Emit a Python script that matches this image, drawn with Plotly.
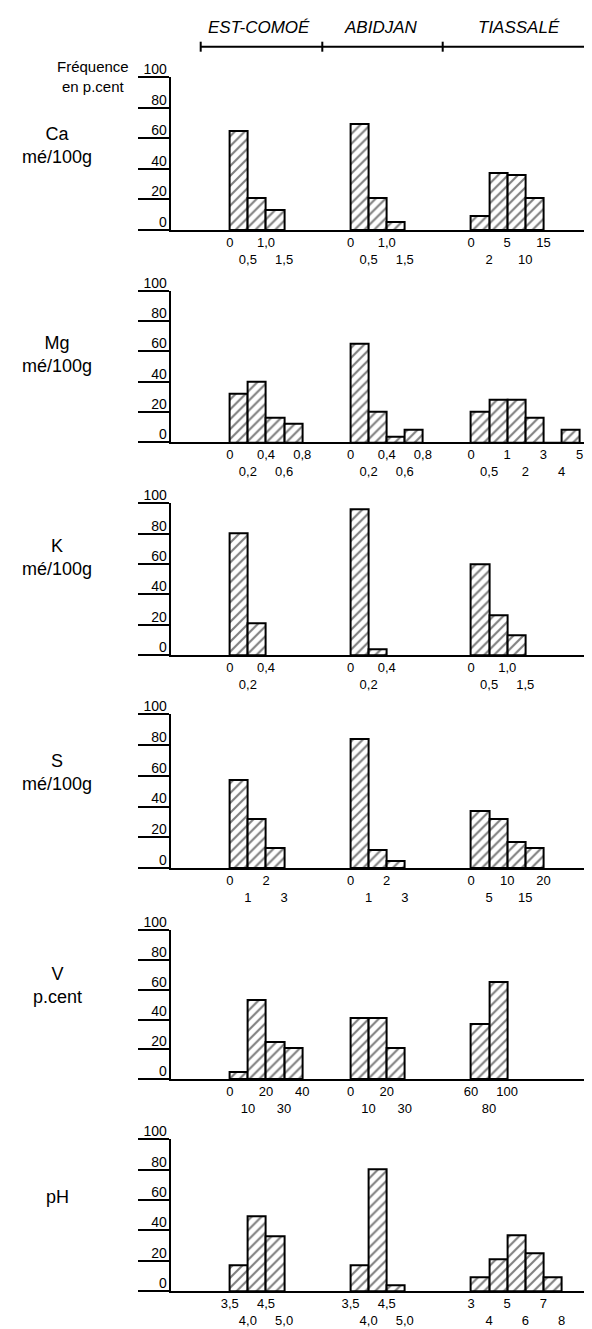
import plotly.graph_objects as go

# page body has an 8 px margin: the figure is drawn 8 px right/down
PAGE_OFF = 8
W, H = 592 - PAGE_OFF, 1329 - PAGE_OFF

# ---------------- data ----------------
SITES = ["EST-COMOÉ", "ABIDJAN", "TIASSALÉ"]
PANEL_LABELS = ["Ca<br>mé/100g", "Mg<br>mé/100g", "K<br>mé/100g",
                "S<br>mé/100g", "V<br>p.cent", "pH"]
Y_TICKS = [0, 20, 40, 60, 80, 100]

CA_EST = [65, 21, 13]
CA_ABI = [69, 21, 5]
CA_TIA = [9, 37, 36, 21]
CA_EST_TICKS = ["0", "0,5", "1,0", "1,5"]
CA_ABI_TICKS = ["0", "0,5", "1,0", "1,5"]
CA_TIA_TICKS = ["0", "2", "5", "10", "15"]

MG_EST = [32, 40, 16, 12]
MG_ABI = [65, 20, 4, 8]
MG_TIA = [20, 28, 28, 16, 0, 8]
MG_EST_TICKS = ["0", "0,2", "0,4", "0,6", "0,8"]
MG_ABI_TICKS = ["0", "0,2", "0,4", "0,6", "0,8"]
MG_TIA_TICKS = ["0", "0,5", "1", "2", "3", "4", "5"]

K_EST = [80, 21]
K_ABI = [96, 4]
K_TIA = [60, 26, 13]
K_EST_TICKS = ["0", "0,2", "0,4"]
K_ABI_TICKS = ["0", "0,2", "0,4"]
K_TIA_TICKS = ["0", "0,5", "1,0", "1,5"]

S_EST = [57, 32, 13]
S_ABI = [84, 12, 5]
S_TIA = [37, 32, 17, 13]
S_EST_TICKS = ["0", "1", "2", "3"]
S_ABI_TICKS = ["0", "1", "2", "3"]
S_TIA_TICKS = ["0", "5", "10", "15", "20"]

V_EST = [5, 53, 25, 21]
V_ABI = [41, 41, 21]
V_TIA = [37, 65]
V_EST_TICKS = ["0", "10", "20", "30", "40"]
V_ABI_TICKS = ["0", "10", "20", "30"]
V_TIA_TICKS = ["60", "80", "100"]

PH_EST = [17, 49, 36]
PH_ABI = [17, 80, 4]
PH_TIA = [9, 21, 37, 25, 9]
PH_EST_TICKS = ["3,5", "4,0", "4,5", "5,0"]
PH_ABI_TICKS = ["3,5", "4,0", "4,5", "5,0"]
PH_TIA_TICKS = ["3", "4", "5", "6", "7", "8"]

PANELS = [
    [(CA_EST, CA_EST_TICKS), (CA_ABI, CA_ABI_TICKS), (CA_TIA, CA_TIA_TICKS)],
    [(MG_EST, MG_EST_TICKS), (MG_ABI, MG_ABI_TICKS), (MG_TIA, MG_TIA_TICKS)],
    [(K_EST, K_EST_TICKS), (K_ABI, K_ABI_TICKS), (K_TIA, K_TIA_TICKS)],
    [(S_EST, S_EST_TICKS), (S_ABI, S_ABI_TICKS), (S_TIA, S_TIA_TICKS)],
    [(V_EST, V_EST_TICKS), (V_ABI, V_ABI_TICKS), (V_TIA, V_TIA_TICKS)],
    [(PH_EST, PH_EST_TICKS), (PH_ABI, PH_ABI_TICKS), (PH_TIA, PH_TIA_TICKS)],
]

# ---------------- layout constants (page pixels) ----------------
AXIS_X0, AXIS_X1 = 170.6, 590.8
BIN_PX = 18.1
SITE_START_PX = [229.8, 350.5, 471.0]
BASE_PX = [230, 442.3, 655, 868.3, 1079.3, 1291]
TOP_PX = [77, 290.7, 503.3, 714, 930, 1139.3]
LABEL_Y = [55, 58, 64, 62, 63, 62]
FONT = "Liberation Sans, Arial, sans-serif"
LW = 2.0


def px_x(p):
    return (p - PAGE_OFF) / W


def px_y(p):
    return 1 - (p - PAGE_OFF) / H


x_range = (AXIS_X1 - AXIS_X0) / BIN_PX
site_off = [(p - AXIS_X0) / BIN_PX for p in SITE_START_PX]

fig = go.Figure()
layout = {}
shapes = []
annotations = []

for k, panel in enumerate(PANELS):
    n = k + 1
    xa = "x" if n == 1 else f"x{n}"
    ya = "y" if n == 1 else f"y{n}"
    tickvals, ticktext = [], []
    for s, (vals, labels) in enumerate(panel):
        off = site_off[s]
        fig.add_trace(go.Bar(
            x=[off + i + 0.5 for i in range(len(vals))],
            y=vals, width=1.0,
            xaxis=xa, yaxis=ya, showlegend=False,
            marker=dict(color="white",
                        line=dict(color="black", width=LW),
                        pattern=dict(shape="/", fgcolor="black", bgcolor="white",
                                     size=7, solidity=0.3)),
        ))
        for j, lab in enumerate(labels):
            tickvals.append(off + j)
            ticktext.append(lab if j % 2 == 0 else "<br>" + lab)
    ydom = [px_y(BASE_PX[k]), px_y(TOP_PX[k])]
    layout["xaxis" if n == 1 else f"xaxis{n}"] = dict(
        domain=[px_x(AXIS_X0), px_x(AXIS_X1)], anchor=ya, range=[0, x_range],
        showline=True, linecolor="black", linewidth=LW, ticks="",
        tickvals=tickvals, ticktext=ticktext, showgrid=False, zeroline=False,
        tickangle=0,
        tickfont=dict(family=FONT, size=13, color="black"),
        ticklabelstandoff=-1, automargin=False, fixedrange=True,
    )
    layout["yaxis" if n == 1 else f"yaxis{n}"] = dict(
        domain=ydom, anchor=xa, range=[0, 100],
        showline=True, linecolor="black", linewidth=LW,
        ticks="outside", ticklen=31, tickwidth=LW, tickcolor="black",
        tickvals=Y_TICKS, ticktext=[str(v) for v in Y_TICKS],
        ticklabelstandoff=-32, ticklabelshift=-8,
        tickfont=dict(family=FONT, size=14, color="black"),
        showgrid=False, zeroline=False, automargin=False, fixedrange=True,
    )
    # small end mark at the right end of the baseline
    shapes.append(dict(type="line", xref=f"{xa} domain", yref=f"{ya} domain",
                       x0=1, x1=1, y0=0, y1=0.07,
                       line=dict(color="black", width=LW)))
    annotations.append(dict(text=PANEL_LABELS[k], xref="paper", yref=ya,
                            x=px_x(57), y=LABEL_Y[k], xanchor="center", yanchor="middle",
                            showarrow=False, align="center",
                            font=dict(family=FONT, size=18, color="black")))

# header with site names
HEADER_Y = 46.7
HEADER_X = [200.7, 322.3, 442.7, 590.5]
HEADER_TEXT_X = [259, 381, 519]
shapes.append(dict(type="line", xref="paper", yref="paper",
                   x0=px_x(HEADER_X[0]), x1=px_x(HEADER_X[-1]),
                   y0=px_y(HEADER_Y), y1=px_y(HEADER_Y),
                   line=dict(color="black", width=LW)))
for hx in HEADER_X:
    shapes.append(dict(type="line", xref="paper", yref="paper",
                       x0=px_x(hx), x1=px_x(hx),
                       y0=px_y(HEADER_Y - 5), y1=px_y(HEADER_Y + 5),
                       line=dict(color="black", width=LW)))
for name, tx in zip(SITES, HEADER_TEXT_X):
    annotations.append(dict(text=name, xref="paper", yref="paper",
                            x=px_x(tx), y=px_y(28), xanchor="center", yanchor="middle",
                            showarrow=False,
                            font=dict(family=FONT, size=17, color="black", style="italic")))

annotations.append(dict(text="Fréquence<br>en p.cent", xref="paper", yref="paper",
                        x=px_x(92.5), y=px_y(76), xanchor="center", yanchor="middle",
                        showarrow=False, align="center",
                        font=dict(family=FONT, size=15, color="black")))

fig.update_layout(
    width=W, height=H,
    margin=dict(l=0, r=0, t=0, b=0),
    paper_bgcolor="white", plot_bgcolor="white",
    bargap=0, barmode="overlay",
    shapes=shapes, annotations=annotations,
    **layout,
)

fig.write_html("out.html")
